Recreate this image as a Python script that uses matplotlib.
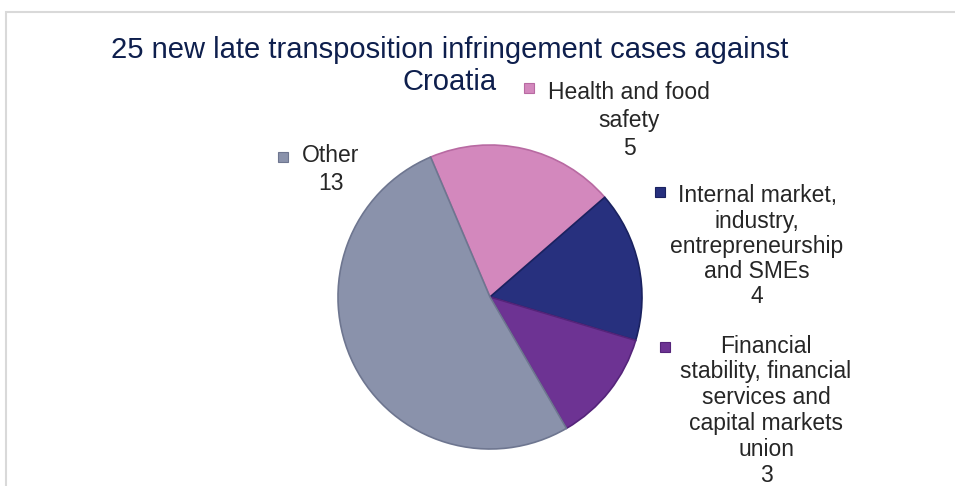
import matplotlib
matplotlib.use("Agg")
import matplotlib.pyplot as plt
from matplotlib.patches import Rectangle

# ---- data ----
categories = ["Health and food\nsafety",
              "Internal market,\nindustry,\nentrepreneurship\nand SMEs",
              "Financial\nstability, financial\nservices and\ncapital markets\nunion",
              "Other"]
values = [5, 4, 3, 13]
colors = ["#d388bd", "#27307e", "#6d3393", "#8a92ab"]
edge_colors = ["#b86aa2", "#1a2260", "#55247a", "#6e7690"]
title_lines = ["25 new late transposition infringement cases against", "Croatia"]

# ---- layout (pixels) ----
W, H = 955, 486
fig = plt.figure(figsize=(W / 100, H / 100), dpi=100)
fig.patch.set_facecolor("white")

def fx(x):
    return x / W

def fy(y):
    return 1 - y / H

# frame border
fig.patches.append(Rectangle((fx(6), fy(600)), fx(1000), fy(12) - fy(600),
                             transform=fig.transFigure, fill=False,
                             edgecolor="#d9d9d9", linewidth=1.5))

cx, cy, r = 490, 297, 152
ax = fig.add_axes([fx(cx - r), fy(cy + r), fx(2 * r), (2 * r) / H])
wedges, _ = ax.pie(values, colors=colors, startangle=113, counterclock=False,
                   radius=1.0, wedgeprops=dict(linewidth=1.2))
for w, ec in zip(wedges, edge_colors):
    w.set_edgecolor(ec)
ax.set_xlim(-1, 1)
ax.set_ylim(-1, 1)
ax.set_aspect("equal")
ax.axis("off")

# title lines (baselines)
for line, base in zip(title_lines, [58, 90]):
    fig.text(fx(450), fy(base), line, ha="center", va="baseline", fontsize=21,
             color="#0e1f4d", family="Liberation Sans")

# data labels: (marker x, marker y, text center x, last baseline y, linespacing)
label_pos = [(529, 88, 629, 155, 1.28),
             (660, 192, 757, 303, 1.12),
             (665, 347, 766, 482, 1.16),
             (283, 157, 331, 190, 1.26)]
for (mx, my, tx, ty, ls), cat, val, col, ec in zip(label_pos, categories, values,
                                                   colors, edge_colors):
    s = 10
    fig.patches.append(Rectangle((fx(mx - s / 2), fy(my + s / 2)), s / W, s / H,
                                 transform=fig.transFigure, facecolor=col,
                                 edgecolor=ec, linewidth=0.8))
    fig.text(fx(tx), fy(ty), f"{cat}\n{val}", ha="center", va="baseline",
             fontsize=16.5, color="#262626", family="Liberation Sans",
             linespacing=ls)

fig.savefig("out.png", dpi=100, facecolor="white")
